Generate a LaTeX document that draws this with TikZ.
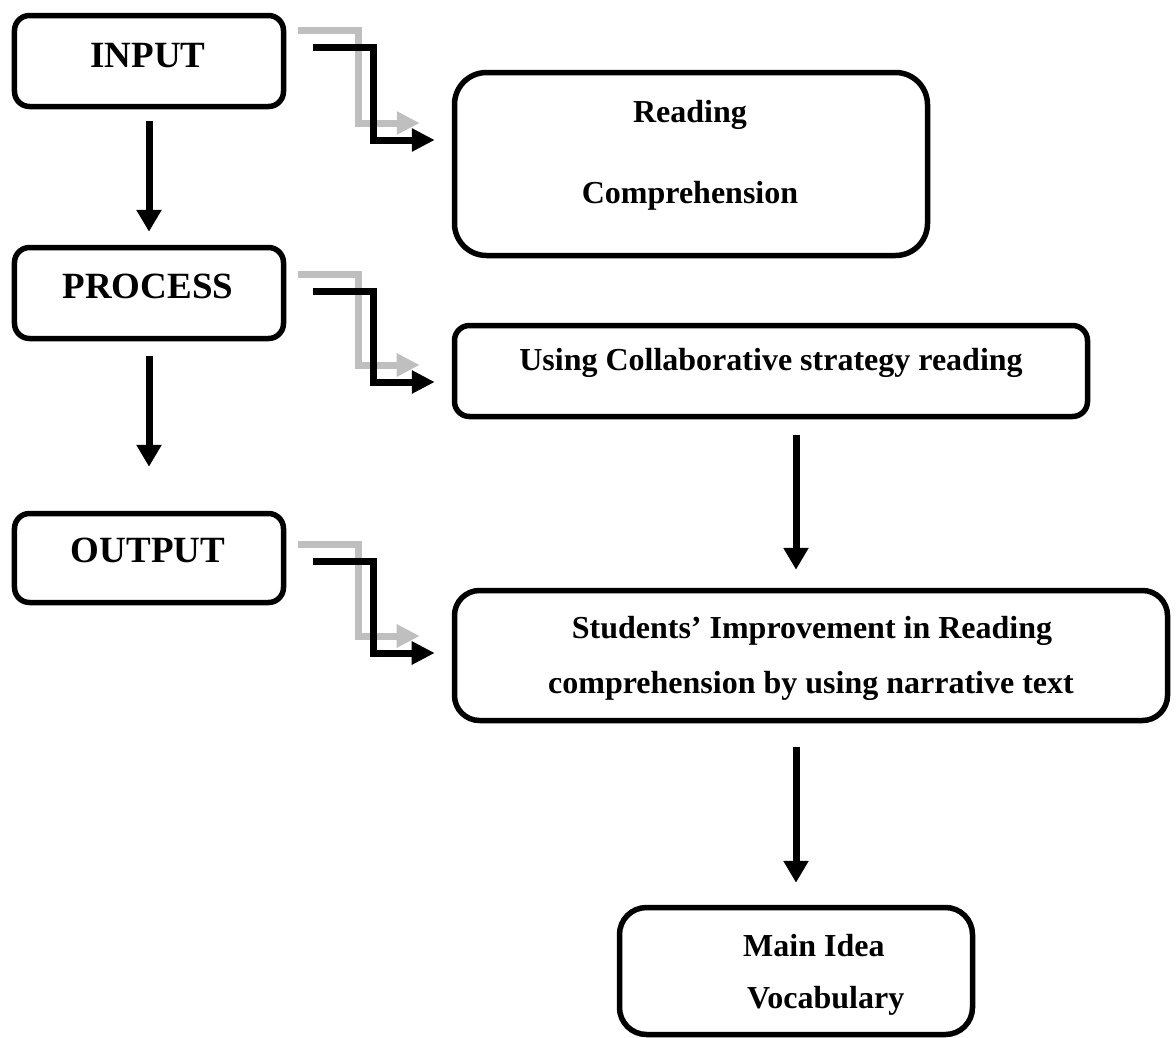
\documentclass[tikz,border=0pt]{standalone}
\usepackage{fontspec}
\setmainfont{Liberation Serif}
\usetikzlibrary{arrows.meta,calc}

\begin{document}
\begin{tikzpicture}[x=1bp,y=-1bp,
  box/.style={draw,line width=5.5bp,rounded corners=#1,inner sep=0pt},
  box/.default=15bp,
  big/.style={font=\fontsize{37bp}{44bp}\selectfont\bfseries,inner sep=0pt,anchor=base},
  txt/.style={font=\fontsize{32bp}{38bp}\selectfont\bfseries,inner sep=0pt,anchor=base},
  down/.style={line width=7bp,-{Triangle[width=24bp,length=22bp]}},
  elbow/.style={line width=7bp,-{Triangle[width=22bp,length=23bp]}},
  ghost/.style={elbow,draw=black!25,transform canvas={xshift=-15bp,yshift=17bp}}]
\useasboundingbox (0,0) rectangle (1176,1038);

\node [box,minimum width=269bp,minimum height=91bp] (input) at (149,61) {};
\node [box,minimum width=269bp,minimum height=91bp] (process) at (149,293) {};
\node [box,minimum width=269bp,minimum height=89bp] (output) at (149,558) {};
\node [box=32bp,minimum width=473bp,minimum height=183bp] (reading) at (691,164) {};
\node [box,minimum width=633bp,minimum height=91bp] (using) at (771,371) {};
\node [box=25bp,minimum width=713bp,minimum height=130bp] (students) at (811,655.5) {};
\node [box=27bp,minimum width=353bp,minimum height=127bp] (mainidea) at (796,971) {};

\node [big] (input-t) at (148,67) {INPUT};
\node [big] (process-t) at (148,298) {PROCESS};
\node [big] (output-t) at (148,562) {OUTPUT};
\node [txt] (reading-t1) at (690,122) {Reading};
\node [txt] (reading-t2) at (690,203) {Comprehension};
\node [txt] (using-t) at (771,370) {Using Collaborative strategy reading};
\node [txt] (students-t1) at (812,638) {Students’ Improvement in Reading};
\node [txt] (students-t2) at (811,693) {comprehension by using narrative text};
\node [txt,anchor=base west] (mainidea-t1) at (743,956) {Main Idea};
\node [txt,anchor=base west] (mainidea-t2) at (747,1008) {Vocabulary};

\draw [down,shorten <=12bp,shorten >=13bp] (input.south) -- (process.north);
\draw [down,shorten <=15bp,shorten >=44bp] (process.south) -- (output.north);
\draw [down,shorten <=16bp,shorten >=18bp] ([xshift=25bp]using.south) -- ([xshift=25bp]using.south |- students.north);
\draw [down,shorten <=24bp,shorten >=22bp] (students.south -| mainidea.north) -- (mainidea.north);

\draw [ghost] ($(input.east)+(27,-14)$) -| ($(reading.west)+(-78,-24)$) -- ($(reading.west)+(-17,-24)$);
\draw [elbow] ($(input.east)+(27,-14)$) -| ($(reading.west)+(-78,-24)$) -- ($(reading.west)+(-17,-24)$);
\draw [ghost] ($(process.east)+(27,-2)$) -| ($(using.west)+(-78,11)$) -- ($(using.west)+(-17,11)$);
\draw [elbow] ($(process.east)+(27,-2)$) -| ($(using.west)+(-78,11)$) -- ($(using.west)+(-17,11)$);
\draw [ghost] ($(output.east)+(27,3)$) -| ($(students.west)+(-78,-2.5)$) -- ($(students.west)+(-17,-2.5)$);
\draw [elbow] ($(output.east)+(27,3)$) -| ($(students.west)+(-78,-2.5)$) -- ($(students.west)+(-17,-2.5)$);

\end{tikzpicture}
\end{document}
